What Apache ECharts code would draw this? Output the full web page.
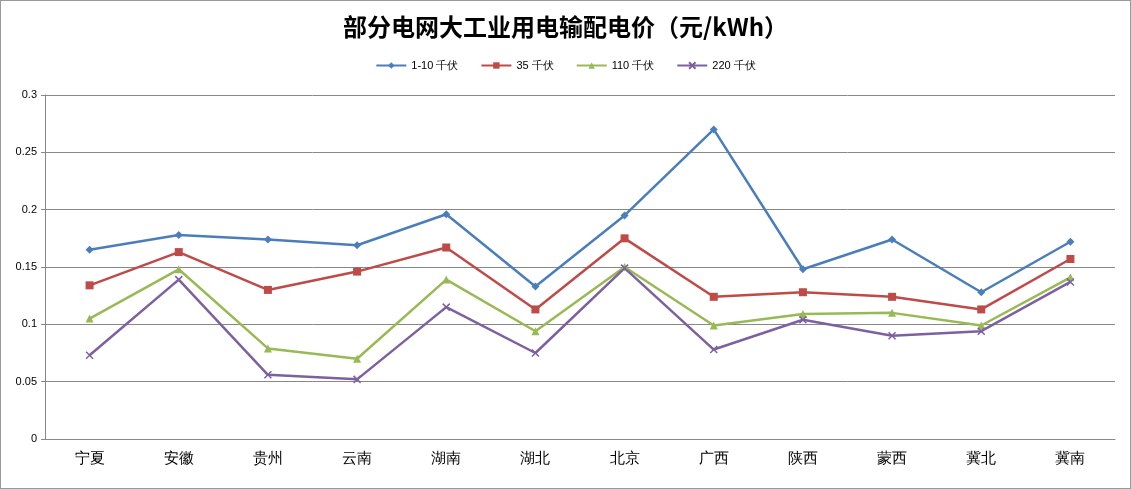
<!DOCTYPE html><html><head><meta charset="utf-8"><script src="https://cdn.jsdelivr.net/npm/echarts@6/dist/echarts.min.js"></script>
<style>html,body{margin:0;padding:0}#c{width:1129px;height:487px;border:1px solid #999}</style></head><body><div id="c"></div><script>
const categories=['宁夏','安徽','贵州','云南','湖南','湖北','北京','广西','陕西','蒙西','冀北','冀南'];
const names=['1-10 千伏','35 千伏','110 千伏','220 千伏'];
const s1=[0.165,0.178,0.174,0.169,0.196,0.133,0.195,0.270,0.148,0.174,0.128,0.172];
const s2=[0.134,0.163,0.130,0.146,0.167,0.113,0.175,0.124,0.128,0.124,0.113,0.157];
const s3=[0.105,0.148,0.079,0.070,0.139,0.094,0.150,0.099,0.109,0.110,0.099,0.141];
const s4=[0.073,0.139,0.056,0.052,0.115,0.075,0.149,0.078,0.104,0.090,0.094,0.137];
const colors=['#4a7ebb','#be4b48','#98b954','#7d60a0'];
const syms=['diamond','rect','triangle','path://M0,0L10,10M10,0L0,10'];
const data=[s1,s2,s3,s4];
const chart=echarts.init(document.getElementById('c'));
chart.setOption({
 title:{text:'部分电网大工业用电输配电价（元/kWh）',left:'center',top:9,textStyle:{fontSize:24,fontWeight:'bold',color:'#000',fontFamily:'Noto Sans CJK SC'}},
 legend:{top:54,itemWidth:30,itemHeight:8,itemGap:22,textStyle:{fontSize:11,color:'#000'},data:names},
 grid:{left:44,right:15,top:94,bottom:49},
 xAxis:{type:'category',data:categories,boundaryGap:true,axisLine:{lineStyle:{color:'#888'}},axisTick:{show:false},axisLabel:{fontSize:15,color:'#000',margin:12}},
 yAxis:{type:'value',min:0,max:0.3,interval:0.05,axisLine:{show:true,lineStyle:{color:'#888'}},axisTick:{show:true,length:4},axisLabel:{fontSize:11,color:'#000',formatter:v=>String(+v.toFixed(2))},splitLine:{lineStyle:{color:'#888'}}},
 series:data.map((d,i)=>({name:names[i],type:'line',data:d,symbol:syms[i],symbolSize:i===3?7:8,lineStyle:{width:2.5,color:colors[i]},itemStyle:{color:colors[i],borderColor:colors[i],borderWidth:i===3?1.5:0},color:colors[i]}))
});
</script></body></html>
